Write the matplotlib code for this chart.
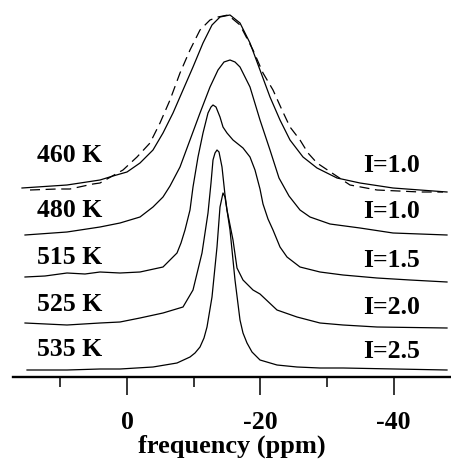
import matplotlib
matplotlib.use('Agg')
import matplotlib.pyplot as plt

# spectra: frequency (ppm) and intensity above each trace's own baseline
ppm_460 = [15.75, 9.0, 4.05, 2.1, 0.0, -1.95, -3.9, -5.4, -6.9, -8.4, -9.9, -11.4, -12.75, -13.95, -15.45,
           -16.95, -18.45, -19.95, -21.45, -22.95, -24.45, -26.4, -28.5, -31.5, -34.95, -39.9, -48.0]
int_460 = [0, 3, 8, 12, 16, 25, 38, 55, 75, 98, 121, 145, 163, 171, 173,
           165, 145, 118, 91, 68, 48, 31, 20, 10, 5, 0, -4]

ppm_460_fit = [14.55, 10.5, 8.55, 5.1, 4.05, 0.6, -1.5, -3.45, -4.95, -6.45, -7.95, -9.45, -10.95, -12.45,
               -13.65, -15.15, -16.95, -18.9, -20.4, -21.9, -23.25, -24.45, -25.95, -27.15, -28.5, -33.45,
               -37.5, -43.95, -47.4]
int_460_fit = [-2, -1, -1, 4, 5, 18, 31, 45, 65, 88, 115, 138, 158, 168,
               171, 173, 163, 138, 115, 98, 78, 61, 48, 35, 25, 3,
               -2, -4, -4]

ppm_480 = [15.3, 9.0, 4.05, 1.05, -1.95, -3.9, -5.4, -6.45, -7.95, -9.45, -10.95, -12.45, -13.65, -14.55,
           -15.45, -16.2, -16.95, -18.45, -19.95, -21.45, -22.8, -24.3, -25.95, -27.45, -30.45, -34.95,
           -39.9, -48.0]
int_480 = [0, 3, 8, 12, 18, 28, 38, 49, 68, 95, 122, 148, 165, 173,
           175, 173, 168, 148, 115, 85, 57, 39, 25, 18, 11, 7,
           2, 0]

ppm_515 = [15.3, 12.3, 9.0, 6.3, 4.05, 1.05, -1.95, -5.4, -7.5, -8.1, -8.7, -9.45, -9.9, -10.65, -11.4,
           -12.15, -12.6, -12.9, -13.35, -13.95, -14.4, -15.0, -15.9, -17.4, -18.45, -19.2, -19.95,
           -20.4, -21.15, -21.9, -22.95, -24.0, -25.95, -28.95, -32.4, -37.5, -42.45, -48.0]
int_515 = [0, 1, 4, 3, 5, 4, 5, 10, 24, 34, 47, 67, 90, 120, 144,
           164, 170, 172, 170, 160, 150, 144, 137, 129, 120, 107, 88,
           73, 58, 47, 30, 20, 10, 5, 2, -1, -3, -5]

ppm_525 = [15.3, 9.0, 4.05, 1.05, -1.95, -5.4, -8.4, -9.9, -11.25, -12.15, -12.6, -12.9, -13.2, -13.5,
           -13.8, -14.25, -14.7, -15.0, -15.9, -16.5, -17.4, -18.9, -19.95, -22.5, -25.5, -28.95,
           -32.4, -37.5, -48.0]
int_525 = [1, -1, 1, 2, 6, 11, 17, 34, 71, 111, 141, 164, 171, 174,
           172, 157, 129, 114, 84, 56, 44, 34, 30, 14, 7, 1,
           -1, -3, -4]

ppm_535 = [15.0, 9.0, 4.05, 1.05, -3.9, -7.5, -9.45, -10.2, -10.95, -11.55, -12.0, -12.75, -13.5, -13.95,
           -14.4, -14.7, -15.45, -16.2, -16.95, -17.4, -18.0, -18.75, -19.95, -22.5, -25.5, -28.95,
           -32.4, -48.0]
int_535 = [0, 0, 1, 1, 3, 7, 13, 17, 23, 32, 43, 73, 123, 163,
           177, 173, 140, 90, 50, 37, 27, 18, 10, 5, 3, 2,
           2, 0]

temps = ['460 K', '480 K', '515 K', '525 K', '535 K']
scales = ['I=1.0', 'I=1.0', 'I=1.5', 'I=2.0', 'I=2.5']
offsets = [189, 142, 100, 53, 7]

spectra = [(ppm_460, int_460), (ppm_480, int_480), (ppm_515, int_515),
           (ppm_525, int_525), (ppm_535, int_535)]

plt.rcParams['font.family'] = ['Liberation Serif', 'DejaVu Serif']
plt.rcParams['font.weight'] = 'bold'

fig = plt.figure(figsize=(4.51, 4.62), dpi=100)
ax = fig.add_axes([13 / 451, 85 / 462, 438 / 451, 377 / 462])

for (x, y), off in zip(spectra, offsets):
    ax.plot(x, [v + off for v in y], color='black', lw=0.9)
ax.plot(ppm_460_fit, [v + offsets[0] for v in int_460_fit], color='black', lw=0.9,
        dashes=(8, 4.5))

# labels on both sides of every trace
left_y = [215, 160, 113, 66, 21]
right_y = [205, 159, 110, 63, 19]
for t, s, ly, ry in zip(temps, scales, left_y, right_y):
    ax.text(13.5, ly, t, fontsize=18.5, fontweight='bold', va='baseline', ha='left')
    ax.text(-35.4, ry, s, fontsize=18.5, fontweight='bold', va='baseline', ha='left')

ax.set_xlim(17.1, -48.6)
ax.set_ylim(0, 377)
ax.set_xticks([0, -20, -40])
ax.set_xticklabels(['0', '-20', '-40'])
ax.set_xticks([10, -10, -30], minor=True)
ax.set_yticks([])
for side in ['left', 'right', 'top']:
    ax.spines[side].set_visible(False)
ax.spines['bottom'].set_linewidth(1.7)
ax.tick_params(axis='x', which='major', direction='out', length=13, width=1.1,
               labelsize=18.5, pad=11.5)
ax.tick_params(axis='x', which='minor', direction='out', length=7, width=1.1)
ax.set_xlabel('frequency (ppm)', fontsize=19, fontweight='bold', labelpad=0.5)
ax.patch.set_alpha(0)

fig.savefig('out.png', dpi=100)
